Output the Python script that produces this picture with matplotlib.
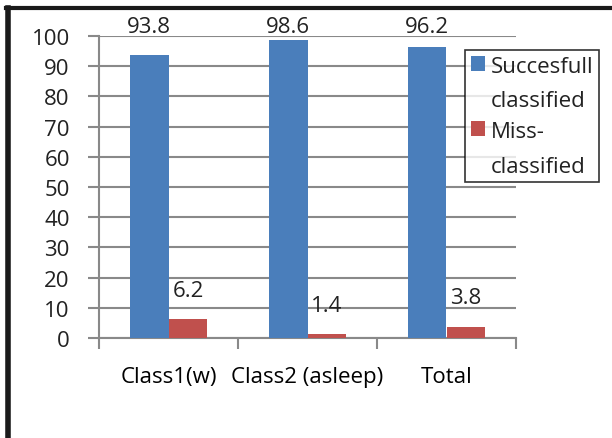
import numpy as np
import matplotlib.pyplot as plt
from matplotlib.lines import Line2D
from matplotlib.patches import Rectangle
from matplotlib.legend_handler import HandlerBase

# data
categories = ["Class1(w)", "Class2 (asleep)", "Total"]
succesfull = [93.8, 98.6, 96.2]
missclass = [6.2, 1.4, 3.8]
series_names = ["Succesfull\nclassified", "Miss-\nclassified"]

plt.rcParams['font.family'] = ['Open Sans', 'DejaVu Sans']
FS = 16


class TopSquare(HandlerBase):
    # put the colour square next to the first line of a two line label
    def create_artists(self, legend, orig_handle, xdescent, ydescent, width, height, fontsize, trans):
        col = orig_handle.patches[0].get_facecolor()
        p = Rectangle((-xdescent, -ydescent + 0.92 * fontsize), width, height,
                      facecolor=col, edgecolor="none", transform=trans)
        return [p]


fig = plt.figure(figsize=(6.12, 4.39), dpi=100)
ax = fig.add_axes([99/612, 1-339/439, (516-99)/612, (339-37)/439])

x = np.arange(len(categories))
w = 0.28
gray = "#898989"
b1 = ax.bar(x - w/2, succesfull, w, color="#4A7EBB", label=series_names[0], zorder=3)
b2 = ax.bar(x + w/2, missclass, w, color="#C0504D", label=series_names[1], zorder=3)

# data labels, kept inside the plot area like excel does
for bars, vals in [(b1, succesfull), (b2, missclass)]:
    for r, v in zip(bars, vals):
        ax.text(r.get_x() + r.get_width()/2, min(v + 6.0, 99.6), f"{v}",
                ha="center", va="bottom", fontsize=FS, color="#222222")

ax.set_xlim(-0.5, 2.5)
ax.set_ylim(0, 100)
ax.set_yticks(range(0, 101, 10))
ax.set_xticks([-0.5, 0.5, 1.5, 2.5], minor=False)
ax.set_xticklabels([])
ax.set_xticks(x, minor=True)
ax.set_xticklabels(categories, minor=True, fontsize=FS)
ax.tick_params(axis="x", which="minor", length=0, pad=20)
ax.tick_params(axis="x", which="major", length=8, color=gray, width=1.5, direction="out")
ax.tick_params(axis="y", length=8, color=gray, width=1.5, labelsize=FS, pad=13, labelcolor="#222222")
ax.yaxis.grid(True, color=gray, linewidth=1.5, zorder=0)
for s in ["top", "right"]:
    ax.spines[s].set_visible(False)
for s in ["left", "bottom"]:
    ax.spines[s].set_color(gray)
    ax.spines[s].set_linewidth(1.5)

leg = ax.legend(handler_map={b1: TopSquare(), b2: TopSquare()},
                loc="upper left", bbox_to_anchor=(465/612, 1-51/439), bbox_transform=fig.transFigure,
                fontsize=FS, frameon=True, fancybox=False, edgecolor="black",
                handlelength=0.65, handleheight=0.65, handletextpad=0.25, borderpad=0.25,
                labelspacing=0.45, borderaxespad=0)
leg.get_frame().set_linewidth(1.2)
for t in leg.get_texts():
    t.set_linespacing(1.85)
    t.set_color("#222222")

# thick frame lines on the left and top edges
fig.add_artist(Line2D([7.5/612, 7.5/612], [0, 1-8.5/439], color="#1a1a1a", linewidth=4, transform=fig.transFigure))
fig.add_artist(Line2D([5.5/612, 1], [1-8.5/439, 1-8.5/439], color="#1a1a1a", linewidth=3, transform=fig.transFigure))

fig.savefig("out.png", dpi=100)
